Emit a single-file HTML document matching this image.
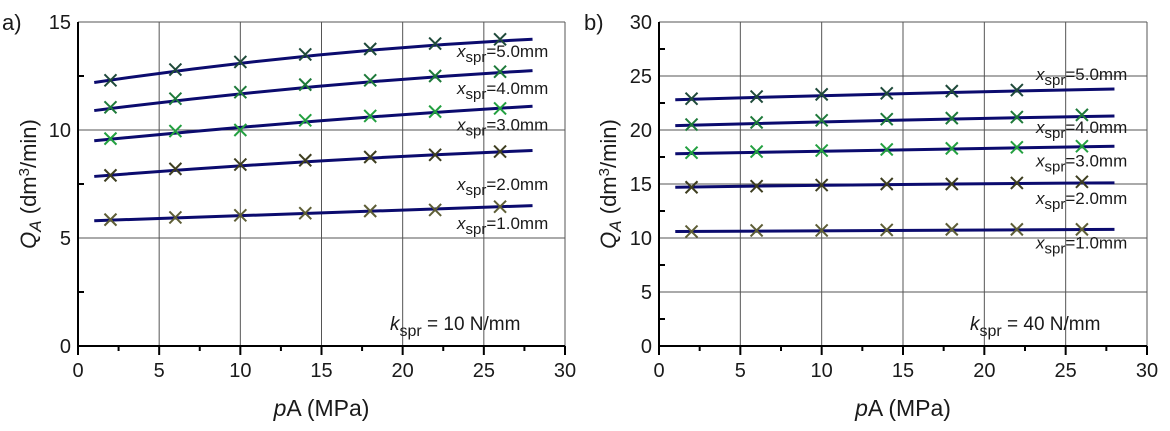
<!DOCTYPE html>
<html><head><meta charset="utf-8"><style>
body{margin:0;background:#fff;width:1170px;height:426px;overflow:hidden}
svg text{font-family:"Liberation Sans","DejaVu Sans",sans-serif;fill:#1a1a1a}
</style></head><body>
<svg id="c" width="1170" height="426"></svg>
<script>
const pressures=[2,6,10,14,18,22,26];
const seriesNames=["5.0","4.0","3.0","2.0","1.0"];
const markerColors=["#1f4a3a","#1e7a3a","#23a040","#3e3e20","#5e5e36"];
// chart a (k=10) — fit curves: value at p=1, p=14.5, p=28
const aLineStart=[12.2,10.9,9.5,7.85,5.8];
const aLineMid=[13.45,12.0,10.4,8.55,6.15];
const aLineEnd=[14.2,12.75,11.1,9.05,6.5];
const aPoints=[[12.3,12.8,13.15,13.5,13.75,14.0,14.2],[11.05,11.45,11.75,12.1,12.3,12.5,12.7],[9.6,9.95,10.0,10.45,10.65,10.85,11.0],[7.9,8.2,8.4,8.6,8.75,8.85,9.0],[5.85,5.95,6.05,6.15,6.25,6.3,6.45]];
const aLabelY=[13.6,11.9,10.2,7.45,5.65];
const aYTicks=[0,5,10,15];
// chart b (k=40)
const bLineStart=[22.8,20.4,17.8,14.7,10.6];
const bLineMid=[23.35,20.9,18.15,14.95,10.72];
const bLineEnd=[23.8,21.3,18.5,15.1,10.8];
const bPoints=[[22.9,23.1,23.3,23.4,23.6,23.7,null],[20.5,20.7,20.9,21.0,21.1,21.2,21.4],[17.9,18.0,18.1,18.2,18.3,18.4,18.5],[14.7,14.8,14.9,15.0,15.0,15.1,15.2],[10.6,10.7,10.7,10.75,10.8,10.8,10.8]];
const bLabelY=[25.1,20.2,17.1,13.6,9.5];
const bYTicks=[0,5,10,15,20,25,30];
const xTicks=[0,5,10,15,20,25,30];

const svg=document.getElementById('c');
const NS='http://www.w3.org/2000/svg';
function mk(tag,attrs,parent){const e=document.createElementNS(NS,tag);for(const k in attrs)e.setAttribute(k,attrs[k]);(parent||svg).appendChild(e);return e;}

function chart(cfg){
 const g=mk('g',{});
 
 
 const L=cfg.x0,R=cfg.x1,T=22,B=346,ymax=cfg.ymax;
 const sx=v=>L+(v/30)*(R-L), sy=v=>B-(v/ymax)*(B-T);
 xTicks.forEach(t=>{if(t>0){const l=mk('line',{x1:sx(t),x2:sx(t),y1:T,y2:B,stroke:'#555','stroke-width':1},g);}});
 cfg.yTicks.forEach(t=>{if(t>0){const l=mk('line',{x1:L,x2:R,y1:sy(t),y2:sy(t),stroke:'#555','stroke-width':1},g);}});
 const ax=mk('line',{x1:L,x2:R,y1:B,y2:B,stroke:'#000','stroke-width':2},g);
 
 const ay=mk('line',{x1:L,x2:L,y1:T,y2:B,stroke:'#000','stroke-width':2},g);
 
 xTicks.forEach(t=>{mk('line',{x1:sx(t),x2:sx(t),y1:B,y2:B+9,stroke:'#000','stroke-width':2},g);
  if(t<30)mk('line',{x1:sx(t+2.5),x2:sx(t+2.5),y1:B,y2:B+5,stroke:'#000','stroke-width':2},g);
  const tx=mk('text',{x:sx(t),y:B+31,'text-anchor':'middle','font-size':20},g);tx.textContent=t;
  });
 const step=cfg.yTicks[1];
 cfg.yTicks.forEach(t=>{
  if(t<ymax)mk('line',{x1:L,x2:L+6,y1:sy(t+step/2),y2:sy(t+step/2),stroke:'#000','stroke-width':2},g);
  const tx=mk('text',{x:L-7,y:sy(t)+7,'text-anchor':'end','font-size':20},g);tx.textContent=t;
  });
 seriesNames.forEach((n,i)=>{
  const x1=sx(1),y1=sy(cfg.ls[i]),x2=sx(28),y2=sy(cfg.le[i]),xm=sx(14.5),ym=sy(cfg.lm[i]);
  const cx=2*xm-(x1+x2)/2, cy=2*ym-(y1+y2)/2;
  const ln=mk('path',{d:`M${x1},${y1}Q${cx},${cy} ${x2},${y2}`,fill:'none',stroke:'#0b0b6e','stroke-width':3},g);
  
  pressures.forEach((p,j)=>{const v=cfg.pts[i][j];if(v==null)return;
   const x=sx(p),y=sy(v);
   const m=mk('path',{d:`M${x-6},${y-6}L${x+6},${y+6}M${x-6},${y+6}L${x+6},${y-6}`,stroke:markerColors[i],'stroke-width':2},g);
   });
  const lab=mk('text',{x:cfg.labX,y:sy(cfg.labY[i])+5,'font-size':17},g);
  lab.innerHTML=`<tspan font-style="italic">x</tspan><tspan dy="5" font-size="15">spr</tspan><tspan dy="-5">=${n}mm</tspan>`;
  
 });
 const k=mk('text',{x:cfg.kX,y:330,'font-size':19},g);
 k.innerHTML=`<tspan font-style="italic">k</tspan><tspan dy="6" font-size="16">spr</tspan><tspan dy="-6"> = ${cfg.k} N/mm</tspan>`;
 
 const pl=mk('text',{x:cfg.panelX,y:30,'font-size':22},g);pl.textContent=cfg.panel;
 
 const xt=mk('text',{x:(L+R)/2,y:416,'text-anchor':'middle','font-size':23},g);
 xt.innerHTML=`<tspan font-style="italic">p</tspan>A (MPa)`;
 
 const yt=mk('text',{transform:`translate(${cfg.ytX},${(T+B)/2}) rotate(-90)`,'text-anchor':'middle','font-size':22},g);
 yt.innerHTML=`<tspan font-style="italic">Q</tspan><tspan font-style="italic" dy="5" font-size="17">A</tspan><tspan dy="-5"> (dm</tspan><tspan dy="-7" font-size="15">3</tspan><tspan dy="7">/min)</tspan>`;
 
}
chart({name:'chart-a',x0:78,x1:565,ymax:15,yTicks:aYTicks,ls:aLineStart,lm:aLineMid,le:aLineEnd,pts:aPoints,labY:aLabelY,labX:457,k:10,kX:390,panel:'a)',panelX:2,ytX:36});
chart({name:'chart-b',x0:659,x1:1147,ymax:30,yTicks:bYTicks,ls:bLineStart,lm:bLineMid,le:bLineEnd,pts:bPoints,labY:bLabelY,labX:1036,k:40,kX:970,panel:'b)',panelX:584,ytX:616});
</script>
</body></html>
